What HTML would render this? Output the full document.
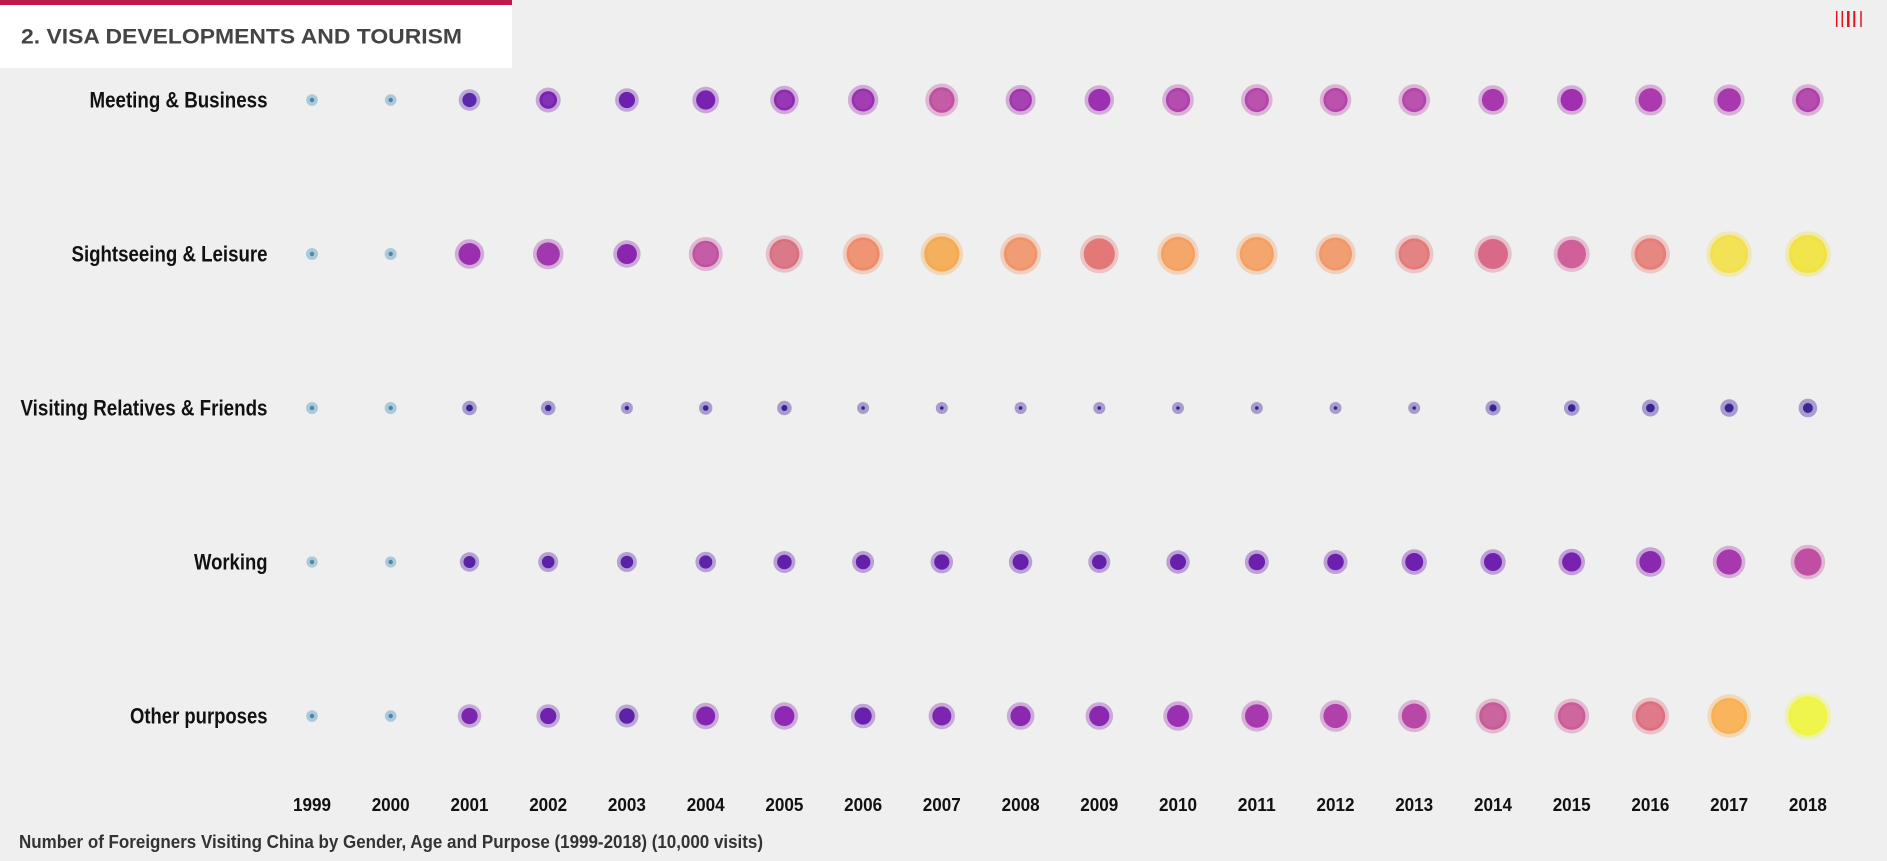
<!DOCTYPE html>
<html><head><meta charset="utf-8"><style>
html,body{margin:0;padding:0;background:#efefef;}
svg{display:block;}
text{font-family:"Liberation Sans",sans-serif;font-weight:bold;}
</style></head><body>
<svg width="1887" height="861" viewBox="0 0 1887 861" xmlns="http://www.w3.org/2000/svg">
<rect width="1887" height="861" fill="#efefef"/>
<rect x="0" y="0" width="512" height="68" fill="#ffffff"/>
<rect x="0" y="0" width="512" height="5" fill="#bb1a4b"/>
<text x="21" y="43.5" font-size="21" fill="#444" textLength="441" lengthAdjust="spacingAndGlyphs">2. VISA DEVELOPMENTS AND TOURISM</text>
<g stroke="#e0141e">
<line x1="1836.7" y1="11" x2="1836.7" y2="27" stroke-width="1.5"/>
<line x1="1842.3" y1="11" x2="1842.3" y2="27" stroke-width="1.5"/>
<line x1="1848.3" y1="11" x2="1848.3" y2="27" stroke-width="2.5"/>
<line x1="1854.3" y1="11" x2="1854.3" y2="27" stroke-width="2"/>
<line x1="1861" y1="11" x2="1861" y2="27" stroke-width="1.5"/>
</g>
<g fill="#111" font-size="22">
<text x="89.5" y="107.5" textLength="178" lengthAdjust="spacingAndGlyphs">Meeting &amp; Business</text>
<text x="71.5" y="261.7" textLength="196" lengthAdjust="spacingAndGlyphs">Sightseeing &amp; Leisure</text>
<text x="20.5" y="415.5" textLength="247" lengthAdjust="spacingAndGlyphs">Visiting Relatives &amp; Friends</text>
<text x="194" y="569.5" textLength="73.5" lengthAdjust="spacingAndGlyphs">Working</text>
<text x="130" y="723.5" textLength="137.5" lengthAdjust="spacingAndGlyphs">Other purposes</text>
</g>
<g fill="#111" font-size="18" text-anchor="middle">
<text x="312.0" y="811" textLength="38" lengthAdjust="spacingAndGlyphs">1999</text>
<text x="390.7" y="811" textLength="38" lengthAdjust="spacingAndGlyphs">2000</text>
<text x="469.5" y="811" textLength="38" lengthAdjust="spacingAndGlyphs">2001</text>
<text x="548.2" y="811" textLength="38" lengthAdjust="spacingAndGlyphs">2002</text>
<text x="626.9" y="811" textLength="38" lengthAdjust="spacingAndGlyphs">2003</text>
<text x="705.7" y="811" textLength="38" lengthAdjust="spacingAndGlyphs">2004</text>
<text x="784.4" y="811" textLength="38" lengthAdjust="spacingAndGlyphs">2005</text>
<text x="863.1" y="811" textLength="38" lengthAdjust="spacingAndGlyphs">2006</text>
<text x="941.8" y="811" textLength="38" lengthAdjust="spacingAndGlyphs">2007</text>
<text x="1020.6" y="811" textLength="38" lengthAdjust="spacingAndGlyphs">2008</text>
<text x="1099.3" y="811" textLength="38" lengthAdjust="spacingAndGlyphs">2009</text>
<text x="1178.0" y="811" textLength="38" lengthAdjust="spacingAndGlyphs">2010</text>
<text x="1256.8" y="811" textLength="38" lengthAdjust="spacingAndGlyphs">2011</text>
<text x="1335.5" y="811" textLength="38" lengthAdjust="spacingAndGlyphs">2012</text>
<text x="1414.2" y="811" textLength="38" lengthAdjust="spacingAndGlyphs">2013</text>
<text x="1493.0" y="811" textLength="38" lengthAdjust="spacingAndGlyphs">2014</text>
<text x="1571.7" y="811" textLength="38" lengthAdjust="spacingAndGlyphs">2015</text>
<text x="1650.4" y="811" textLength="38" lengthAdjust="spacingAndGlyphs">2016</text>
<text x="1729.1" y="811" textLength="38" lengthAdjust="spacingAndGlyphs">2017</text>
<text x="1807.9" y="811" textLength="38" lengthAdjust="spacingAndGlyphs">2018</text>
</g>
<text x="19" y="848" font-size="18" fill="#333" textLength="744" lengthAdjust="spacingAndGlyphs">Number of Foreigners Visiting China by Gender, Age and Purpose (1999-2018) (10,000 visits)</text>

<!-- blue dots 1999/2000 -->
<g>
<circle cx="312.0" cy="100" r="5.8" fill="#aacadb"/><circle cx="312.0" cy="100" r="2.2" fill="#4d86a6"/>
<circle cx="390.7" cy="100" r="5.8" fill="#aacadb"/><circle cx="390.7" cy="100" r="2.2" fill="#4d86a6"/>
<circle cx="312.0" cy="254" r="6" fill="#aacadb"/><circle cx="312.0" cy="254" r="2.2" fill="#4d86a6"/>
<circle cx="390.7" cy="254" r="6" fill="#aacadb"/><circle cx="390.7" cy="254" r="2.2" fill="#4d86a6"/>
<circle cx="312.0" cy="408" r="6" fill="#aacadb"/><circle cx="312.0" cy="408" r="2.2" fill="#4d86a6"/>
<circle cx="390.7" cy="408" r="6" fill="#aacadb"/><circle cx="390.7" cy="408" r="2.2" fill="#4d86a6"/>
<circle cx="312.0" cy="562" r="5.6" fill="#aacadb"/><circle cx="312.0" cy="562" r="2.2" fill="#4d86a6"/>
<circle cx="390.7" cy="562" r="5.6" fill="#aacadb"/><circle cx="390.7" cy="562" r="2.2" fill="#4d86a6"/>
<circle cx="312.0" cy="716" r="5.8" fill="#aacadb"/><circle cx="312.0" cy="716" r="2.2" fill="#4d86a6"/>
<circle cx="390.7" cy="716" r="5.8" fill="#aacadb"/><circle cx="390.7" cy="716" r="2.2" fill="#4d86a6"/>
</g>

<!-- Meeting & Business y=100 -->
<g>
<circle cx="469.5" cy="100" r="10.8" fill="#5a28a8" fill-opacity=".35"/><circle cx="469.5" cy="100" r="7.1" fill="#5a28a8"/>
<circle cx="548.2" cy="100" r="12.5" fill="#7a22b0" fill-opacity=".35"/><circle cx="548.2" cy="100" r="8.8" fill="#7a22b0"/>
<circle cx="626.9" cy="100" r="11.8" fill="#6c20ad" fill-opacity=".35"/><circle cx="626.9" cy="100" r="8.1" fill="#6c20ad"/>
<circle cx="705.7" cy="100" r="13.3" fill="#7a22b0" fill-opacity=".35"/><circle cx="705.7" cy="100" r="9.6" fill="#7a22b0"/>
<circle cx="784.4" cy="100" r="14.2" fill="#8e28b0" fill-opacity=".35"/><circle cx="784.4" cy="100" r="10.5" fill="#8e28b0"/>
<circle cx="863.1" cy="100" r="15.2" fill="#9a30ae" fill-opacity=".35"/><circle cx="863.1" cy="100" r="11.5" fill="#9a30ae"/>
<circle cx="941.8" cy="100" r="16.5" fill="#c050a0" fill-opacity=".35"/><circle cx="941.8" cy="100" r="12.8" fill="#c050a0"/>
<circle cx="1020.6" cy="100" r="15" fill="#a035ad" fill-opacity=".35"/><circle cx="1020.6" cy="100" r="11.3" fill="#a035ad"/>
<circle cx="1099.3" cy="100" r="14.8" fill="#9c30b0" fill-opacity=".35"/><circle cx="1099.3" cy="100" r="11.1" fill="#9c30b0"/>
<circle cx="1178.0" cy="100" r="15.8" fill="#ae40aa" fill-opacity=".35"/><circle cx="1178.0" cy="100" r="12.1" fill="#ae40aa"/>
<circle cx="1256.8" cy="100" r="15.8" fill="#b545a8" fill-opacity=".35"/><circle cx="1256.8" cy="100" r="12.1" fill="#b545a8"/>
<circle cx="1335.5" cy="100" r="15.8" fill="#b545a8" fill-opacity=".35"/><circle cx="1335.5" cy="100" r="12.1" fill="#b545a8"/>
<circle cx="1414.2" cy="100" r="15.8" fill="#b545a8" fill-opacity=".35"/><circle cx="1414.2" cy="100" r="12.1" fill="#b545a8"/>
<circle cx="1493.0" cy="100" r="14.8" fill="#a838ad" fill-opacity=".35"/><circle cx="1493.0" cy="100" r="11.1" fill="#a838ad"/>
<circle cx="1571.7" cy="100" r="14.8" fill="#a030b0" fill-opacity=".35"/><circle cx="1571.7" cy="100" r="11.1" fill="#a030b0"/>
<circle cx="1650.4" cy="100" r="15.5" fill="#aa3aad" fill-opacity=".35"/><circle cx="1650.4" cy="100" r="11.8" fill="#aa3aad"/>
<circle cx="1729.1" cy="100" r="15.5" fill="#a838ad" fill-opacity=".35"/><circle cx="1729.1" cy="100" r="11.8" fill="#a838ad"/>
<circle cx="1807.9" cy="100" r="15.8" fill="#b040a8" fill-opacity=".35"/><circle cx="1807.9" cy="100" r="12.1" fill="#b040a8"/>
</g>

<!-- Sightseeing & Leisure y=254 -->
<g>
<circle cx="469.5" cy="254" r="14.7" fill="#9a30b0" fill-opacity=".35"/><circle cx="469.5" cy="254" r="11" fill="#9a30b0"/>
<circle cx="548.2" cy="254" r="15.3" fill="#a238ad" fill-opacity=".35"/><circle cx="548.2" cy="254" r="11.6" fill="#a238ad"/>
<circle cx="626.9" cy="254" r="13.7" fill="#8a25b0" fill-opacity=".35"/><circle cx="626.9" cy="254" r="10" fill="#8a25b0"/>
<circle cx="705.7" cy="254" r="17" fill="#c050a0" fill-opacity=".35"/><circle cx="705.7" cy="254" r="13.3" fill="#c050a0"/>
<circle cx="784.4" cy="254" r="18.7" fill="#d87080" fill-opacity=".35"/><circle cx="784.4" cy="254" r="15" fill="#d87080"/>
<circle cx="863.1" cy="254" r="20.3" fill="#ee8c6a" fill-opacity=".35"/><circle cx="863.1" cy="254" r="16.6" fill="#ee8c6a"/>
<circle cx="941.8" cy="254" r="21.3" fill="#f5aa52" fill-opacity=".35"/><circle cx="941.8" cy="254" r="17.6" fill="#f5aa52"/>
<circle cx="1020.6" cy="254" r="20.5" fill="#ef956a" fill-opacity=".35"/><circle cx="1020.6" cy="254" r="16.8" fill="#ef956a"/>
<circle cx="1099.3" cy="254" r="19.3" fill="#e27878" fill-opacity=".35"/><circle cx="1099.3" cy="254" r="15.6" fill="#e27878"/>
<circle cx="1178.0" cy="254" r="20.8" fill="#f5a060" fill-opacity=".35"/><circle cx="1178.0" cy="254" r="17.1" fill="#f5a060"/>
<circle cx="1256.8" cy="254" r="20.8" fill="#f4a062" fill-opacity=".35"/><circle cx="1256.8" cy="254" r="17.1" fill="#f4a062"/>
<circle cx="1335.5" cy="254" r="20.2" fill="#f09868" fill-opacity=".35"/><circle cx="1335.5" cy="254" r="16.5" fill="#f09868"/>
<circle cx="1414.2" cy="254" r="19.3" fill="#e27a7a" fill-opacity=".35"/><circle cx="1414.2" cy="254" r="15.6" fill="#e27a7a"/>
<circle cx="1493.0" cy="254" r="18.7" fill="#d86a88" fill-opacity=".35"/><circle cx="1493.0" cy="254" r="15" fill="#d86a88"/>
<circle cx="1571.7" cy="254" r="18" fill="#d0609a" fill-opacity=".35"/><circle cx="1571.7" cy="254" r="14.3" fill="#d0609a"/>
<circle cx="1650.4" cy="254" r="19.5" fill="#e57e78" fill-opacity=".35"/><circle cx="1650.4" cy="254" r="15.8" fill="#e57e78"/>
<circle cx="1729.1" cy="254" r="22.8" fill="#f3e04a" fill-opacity=".35"/><circle cx="1729.1" cy="254" r="19.1" fill="#f3e04a"/>
<circle cx="1807.9" cy="254" r="22.8" fill="#f2e23e" fill-opacity=".35"/><circle cx="1807.9" cy="254" r="19.1" fill="#f2e23e"/>
</g>

<!-- Visiting Relatives & Friends y=408 -->
<g>
<circle cx="469.5" cy="408" r="7.3" fill="#3b2196" fill-opacity=".4"/><circle cx="469.5" cy="408" r="3.4" fill="#3b2196"/>
<circle cx="548.2" cy="408" r="7.3" fill="#3b2196" fill-opacity=".4"/><circle cx="548.2" cy="408" r="3.2" fill="#3b2196"/>
<circle cx="626.9" cy="408" r="6" fill="#3b2196" fill-opacity=".4"/><circle cx="626.9" cy="408" r="2.2" fill="#3b2196"/>
<circle cx="705.7" cy="408" r="6.7" fill="#3b2196" fill-opacity=".4"/><circle cx="705.7" cy="408" r="2.8" fill="#3b2196"/>
<circle cx="784.4" cy="408" r="7.3" fill="#3b2196" fill-opacity=".4"/><circle cx="784.4" cy="408" r="3" fill="#3b2196"/>
<circle cx="863.1" cy="408" r="6" fill="#3b2196" fill-opacity=".4"/><circle cx="863.1" cy="408" r="1.8" fill="#3b2196"/>
<circle cx="941.8" cy="408" r="6" fill="#3b2196" fill-opacity=".4"/><circle cx="941.8" cy="408" r="1.8" fill="#3b2196"/>
<circle cx="1020.6" cy="408" r="6" fill="#3b2196" fill-opacity=".4"/><circle cx="1020.6" cy="408" r="1.8" fill="#3b2196"/>
<circle cx="1099.3" cy="408" r="6" fill="#3b2196" fill-opacity=".4"/><circle cx="1099.3" cy="408" r="1.8" fill="#3b2196"/>
<circle cx="1178.0" cy="408" r="6" fill="#3b2196" fill-opacity=".4"/><circle cx="1178.0" cy="408" r="1.8" fill="#3b2196"/>
<circle cx="1256.8" cy="408" r="6" fill="#3b2196" fill-opacity=".4"/><circle cx="1256.8" cy="408" r="1.8" fill="#3b2196"/>
<circle cx="1335.5" cy="408" r="6" fill="#3b2196" fill-opacity=".4"/><circle cx="1335.5" cy="408" r="1.8" fill="#3b2196"/>
<circle cx="1414.2" cy="408" r="6" fill="#3b2196" fill-opacity=".4"/><circle cx="1414.2" cy="408" r="1.8" fill="#3b2196"/>
<circle cx="1493.0" cy="408" r="7.5" fill="#3b2196" fill-opacity=".4"/><circle cx="1493.0" cy="408" r="3.6" fill="#3b2196"/>
<circle cx="1571.7" cy="408" r="7.8" fill="#3b2196" fill-opacity=".4"/><circle cx="1571.7" cy="408" r="3.8" fill="#3b2196"/>
<circle cx="1650.4" cy="408" r="8.5" fill="#3b2196" fill-opacity=".4"/><circle cx="1650.4" cy="408" r="4.3" fill="#3b2196"/>
<circle cx="1729.1" cy="408" r="8.8" fill="#3b2196" fill-opacity=".4"/><circle cx="1729.1" cy="408" r="4.5" fill="#3b2196"/>
<circle cx="1807.9" cy="408" r="9.3" fill="#40229a" fill-opacity=".4"/><circle cx="1807.9" cy="408" r="5" fill="#40229a"/>
</g>

<!-- Working y=562 -->
<g>
<circle cx="469.5" cy="562" r="9.7" fill="#5a22a5" fill-opacity=".38"/><circle cx="469.5" cy="562" r="6" fill="#5a22a5"/>
<circle cx="548.2" cy="562" r="10" fill="#5c22a6" fill-opacity=".38"/><circle cx="548.2" cy="562" r="6.3" fill="#5c22a6"/>
<circle cx="626.9" cy="562" r="10" fill="#5a22a5" fill-opacity=".38"/><circle cx="626.9" cy="562" r="6.3" fill="#5a22a5"/>
<circle cx="705.7" cy="562" r="10.3" fill="#5e22a8" fill-opacity=".38"/><circle cx="705.7" cy="562" r="6.6" fill="#5e22a8"/>
<circle cx="784.4" cy="562" r="11" fill="#6220aa" fill-opacity=".38"/><circle cx="784.4" cy="562" r="7.3" fill="#6220aa"/>
<circle cx="863.1" cy="562" r="11" fill="#6420ab" fill-opacity=".38"/><circle cx="863.1" cy="562" r="7.3" fill="#6420ab"/>
<circle cx="941.8" cy="562" r="11.3" fill="#6420ab" fill-opacity=".38"/><circle cx="941.8" cy="562" r="7.6" fill="#6420ab"/>
<circle cx="1020.6" cy="562" r="11.7" fill="#6620ac" fill-opacity=".38"/><circle cx="1020.6" cy="562" r="8" fill="#6620ac"/>
<circle cx="1099.3" cy="562" r="11" fill="#6420ab" fill-opacity=".38"/><circle cx="1099.3" cy="562" r="7.3" fill="#6420ab"/>
<circle cx="1178.0" cy="562" r="11.7" fill="#6820ac" fill-opacity=".38"/><circle cx="1178.0" cy="562" r="8" fill="#6820ac"/>
<circle cx="1256.8" cy="562" r="12" fill="#6c20ad" fill-opacity=".38"/><circle cx="1256.8" cy="562" r="8.3" fill="#6c20ad"/>
<circle cx="1335.5" cy="562" r="12" fill="#6c20ad" fill-opacity=".38"/><circle cx="1335.5" cy="562" r="8.3" fill="#6c20ad"/>
<circle cx="1414.2" cy="562" r="12.7" fill="#7020ae" fill-opacity=".38"/><circle cx="1414.2" cy="562" r="9" fill="#7020ae"/>
<circle cx="1493.0" cy="562" r="12.7" fill="#7020ae" fill-opacity=".38"/><circle cx="1493.0" cy="562" r="9" fill="#7020ae"/>
<circle cx="1571.7" cy="562" r="13.3" fill="#7a22b0" fill-opacity=".38"/><circle cx="1571.7" cy="562" r="9.6" fill="#7a22b0"/>
<circle cx="1650.4" cy="562" r="14.7" fill="#8a28b0" fill-opacity=".38"/><circle cx="1650.4" cy="562" r="11" fill="#8a28b0"/>
<circle cx="1729.1" cy="562" r="16.3" fill="#a838ae" fill-opacity=".35"/><circle cx="1729.1" cy="562" r="12.6" fill="#a838ae"/>
<circle cx="1807.9" cy="562" r="17.3" fill="#c04ea2" fill-opacity=".35"/><circle cx="1807.9" cy="562" r="13.6" fill="#c04ea2"/>
</g>

<!-- Other purposes y=716 -->
<g>
<circle cx="469.5" cy="716" r="11.8" fill="#7a25b0" fill-opacity=".35"/><circle cx="469.5" cy="716" r="8.1" fill="#7a25b0"/>
<circle cx="548.2" cy="716" r="11.8" fill="#6e22ad" fill-opacity=".35"/><circle cx="548.2" cy="716" r="8.1" fill="#6e22ad"/>
<circle cx="626.9" cy="716" r="11.5" fill="#5e22a8" fill-opacity=".35"/><circle cx="626.9" cy="716" r="7.8" fill="#5e22a8"/>
<circle cx="705.7" cy="716" r="13.2" fill="#8325b0" fill-opacity=".35"/><circle cx="705.7" cy="716" r="9.5" fill="#8325b0"/>
<circle cx="784.4" cy="716" r="13.7" fill="#8f28b2" fill-opacity=".35"/><circle cx="784.4" cy="716" r="10" fill="#8f28b2"/>
<circle cx="863.1" cy="716" r="12.3" fill="#6a20ae" fill-opacity=".35"/><circle cx="863.1" cy="716" r="8.6" fill="#6a20ae"/>
<circle cx="941.8" cy="716" r="13.2" fill="#7d25b0" fill-opacity=".35"/><circle cx="941.8" cy="716" r="9.5" fill="#7d25b0"/>
<circle cx="1020.6" cy="716" r="13.8" fill="#8a28b0" fill-opacity=".35"/><circle cx="1020.6" cy="716" r="10.1" fill="#8a28b0"/>
<circle cx="1099.3" cy="716" r="13.8" fill="#8a28b0" fill-opacity=".35"/><circle cx="1099.3" cy="716" r="10.1" fill="#8a28b0"/>
<circle cx="1178.0" cy="716" r="14.7" fill="#9a30b0" fill-opacity=".35"/><circle cx="1178.0" cy="716" r="11" fill="#9a30b0"/>
<circle cx="1256.8" cy="716" r="15.5" fill="#a838ad" fill-opacity=".35"/><circle cx="1256.8" cy="716" r="11.8" fill="#a838ad"/>
<circle cx="1335.5" cy="716" r="15.8" fill="#b040aa" fill-opacity=".35"/><circle cx="1335.5" cy="716" r="12.1" fill="#b040aa"/>
<circle cx="1414.2" cy="716" r="16.2" fill="#b848a5" fill-opacity=".35"/><circle cx="1414.2" cy="716" r="12.5" fill="#b848a5"/>
<circle cx="1493.0" cy="716" r="17.5" fill="#c85a98" fill-opacity=".35"/><circle cx="1493.0" cy="716" r="13.8" fill="#c85a98"/>
<circle cx="1571.7" cy="716" r="17.5" fill="#cc5c98" fill-opacity=".35"/><circle cx="1571.7" cy="716" r="13.8" fill="#cc5c98"/>
<circle cx="1650.4" cy="716" r="18.5" fill="#dc7080" fill-opacity=".35"/><circle cx="1650.4" cy="716" r="14.8" fill="#dc7080"/>
<circle cx="1729.1" cy="716" r="21.7" fill="#f8b050" fill-opacity=".35"/><circle cx="1729.1" cy="716" r="18" fill="#f8b050"/>
<circle cx="1807.9" cy="716" r="23.3" fill="#eff540" fill-opacity=".35"/><circle cx="1807.9" cy="716" r="19.6" fill="#eff540"/>
</g>

<!-- subtle lighter centers -->
<g fill="#ffffff" fill-opacity=".07">
<circle cx="548.2" cy="100" r="6"/><circle cx="784.4" cy="100" r="8"/><circle cx="863.1" cy="100" r="9"/><circle cx="941.8" cy="100" r="10"/><circle cx="1020.6" cy="100" r="9"/><circle cx="1178.0" cy="100" r="9.5"/><circle cx="1256.8" cy="100" r="9.5"/><circle cx="1335.5" cy="100" r="9.5"/><circle cx="1414.2" cy="100" r="9.5"/><circle cx="1807.9" cy="100" r="9.5"/>
<circle cx="705.7" cy="254" r="11"/><circle cx="784.4" cy="254" r="12.5"/><circle cx="863.1" cy="254" r="14"/><circle cx="941.8" cy="254" r="15"/><circle cx="1020.6" cy="254" r="14"/><circle cx="1178.0" cy="254" r="14.5"/><circle cx="1256.8" cy="254" r="14.5"/><circle cx="1335.5" cy="254" r="14"/><circle cx="1414.2" cy="254" r="13"/><circle cx="1650.4" cy="254" r="13"/><circle cx="1729.1" cy="254" r="16.5"/><circle cx="1807.9" cy="254" r="16.5"/>
<circle cx="1493.0" cy="716" r="11"/><circle cx="1571.7" cy="716" r="11"/><circle cx="1650.4" cy="716" r="12"/><circle cx="1729.1" cy="716" r="15.5"/><circle cx="1807.9" cy="716" r="17"/>
</g>
</svg>
</body></html>
